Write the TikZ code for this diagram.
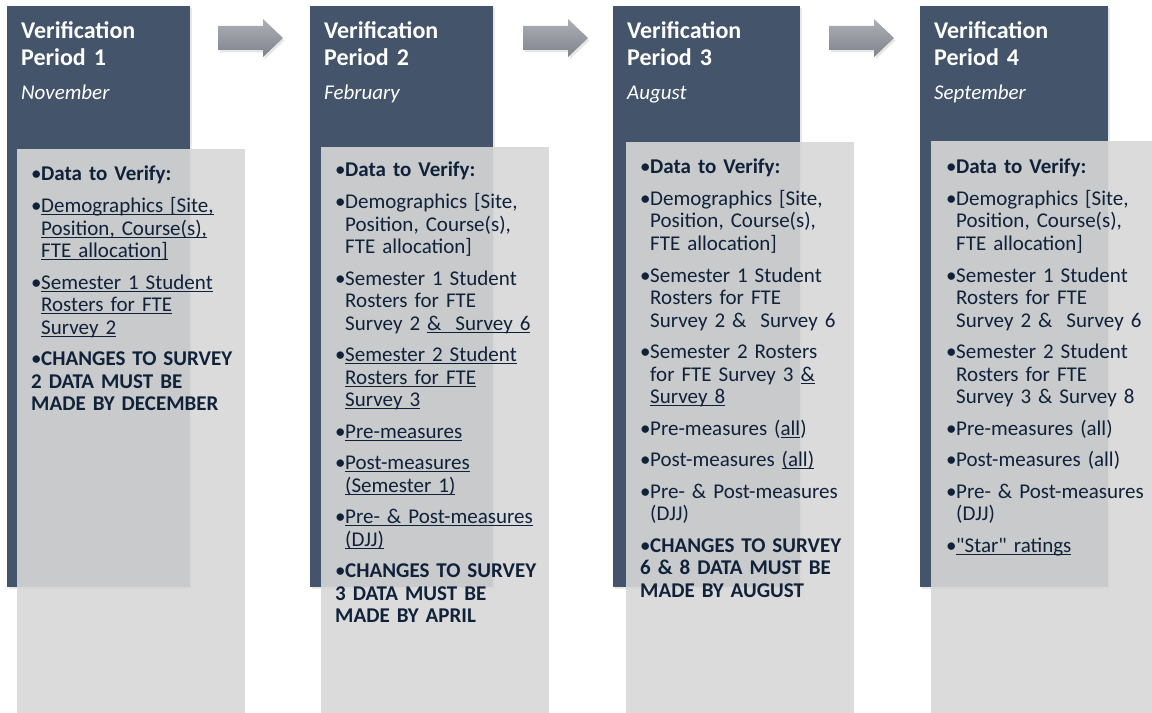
\documentclass[tikz,border=0pt]{standalone}
\usepackage{fontspec}
\setmainfont{Carlito}
\usepackage{tikz}
\usetikzlibrary{positioning,shadows}

\definecolor{headblue}{RGB}{68,84,106}
\definecolor{boxgray}{RGB}{215,215,215}
\definecolor{navytext}{RGB}{16,34,58}
\definecolor{arrowtop}{RGB}{172,175,182}
\definecolor{arrowbot}{RGB}{128,131,139}

% bullet item with hanging indent
\newcommand{\itm}[1]{\par\parskip=9bp\relax\hangindent=10bp\hangafter=1\noindent\makebox[10bp][l]{\textbullet}#1}
% underline that sits just under the baseline
\newcommand{\uln}[1]{\setbox0\hbox{#1}\rlap{\rule[-2.6bp]{\wd0}{1.1bp}}\box0}

\tikzset{
  headbox/.style={fill=headblue, inner sep=0, anchor=north west,
    drop shadow={opacity=0.18, shadow xshift=2bp, shadow yshift=-2bp}},
  listbox/.style={fill=boxgray, fill opacity=0.9, inner sep=0, anchor=north west},
  title/.style={text=white, inner sep=0, anchor=base west, text width=170bp,
    font=\bfseries\fontsize{24bp}{27bp}\selectfont},
  month/.style={text=white, inner sep=0, anchor=base west,
    font=\itshape\fontsize{21bp}{24bp}\selectfont},
  items/.style={text=navytext, inner sep=0, anchor=base west, text width=215bp,
    font=\fontsize{21bp}{22.5bp}\selectfont},
  blockarrow/.style={top color=arrowtop, bottom color=arrowbot,
    drop shadow={opacity=0.2, shadow xshift=1.5bp, shadow yshift=-2.5bp}}
}

\begin{document}
\begin{tikzpicture}[x=1bp, y=-1bp]
  \useasboundingbox (0,0) rectangle (1152,713);

  %Headers
  \node[headbox, minimum width=183bp, minimum height=581bp] at (7,6)   (head1) {};
  \node[headbox, minimum width=183bp, minimum height=581bp] at (310,6) (head2) {};
  \node[headbox, minimum width=187bp, minimum height=581bp] at (613,6) (head3) {};
  \node[headbox, minimum width=188bp, minimum height=581bp] at (920,6) (head4) {};

  %Arrows
  \foreach \x in {218,523,829}
    \path[blockarrow] (\x,26) -- ++(45,0) -- ++(0,-7) -- ++(20,19)
      -- ++(-20,19) -- ++(0,-7) -- ++(-45,0) -- cycle;

  %Boxes
  \node[listbox, minimum width=228bp, minimum height=564bp] at (17,149)  (box1) {};
  \node[listbox, minimum width=228bp, minimum height=566bp] at (321,147) (box2) {};
  \node[listbox, minimum width=228bp, minimum height=571bp] at (626,142) (box3) {};
  \node[listbox, minimum width=221bp, minimum height=572bp] at (931,141) (box4) {};

  %Titles
  \node[title] at (21,39)  (title1) {Verification\newline Period 1};
  \node[title] at (324,39) (title2) {Verification\newline Period 2};
  \node[title] at (627,39) (title3) {Verification\newline Period 3};
  \node[title] at (934,39) (title4) {Verification\newline Period 4};
  \node[month] at (21,100)  (month1) {November};
  \node[month] at (324,100) (month2) {February};
  \node[month] at (627,100) (month3) {August};
  \node[month] at (934,100) (month4) {September};

  %Lists
  \node[items] at (31,149.5) (list1) {%
    \itm{\textbf{Data to Verify:}}
    \itm{\uln{Demographics [Site,}\newline\uln{Position, Course(s),}\newline\uln{FTE allocation]}}
    \itm{\uln{Semester 1 Student}\newline\uln{Rosters for FTE}\newline\uln{Survey 2}}
    \itm{\textbf{CHANGES TO SURVEY\newline 2 DATA MUST BE\newline MADE BY DECEMBER}}};
  \node[items] at (335,145.5) (list2) {%
    \itm{\textbf{Data to Verify:}}
    \itm{Demographics [Site,\newline Position, Course(s),\newline FTE allocation]}
    \itm{Semester 1 Student\newline Rosters for FTE\newline Survey 2 \uln{\&\ \ Survey 6}}
    \itm{\uln{Semester 2 Student}\newline\uln{Rosters for FTE}\newline\uln{Survey 3}}
    \itm{\uln{Pre-measures}}
    \itm{\uln{Post-measures}\newline\uln{(Semester 1)}}
    \itm{\uln{Pre- \& Post-measures}\newline\uln{(DJJ)}}
    \itm{\textbf{CHANGES TO SURVEY\newline 3 DATA MUST BE\newline MADE BY APRIL}}};
  \node[items] at (640,142.5) (list3) {%
    \itm{\textbf{Data to Verify:}}
    \itm{Demographics [Site,\newline Position, Course(s),\newline FTE allocation]}
    \itm{Semester 1 Student\newline Rosters for FTE\newline Survey 2 \&\ \ Survey 6}
    \itm{Semester 2 Rosters\newline for FTE Survey 3 \uln{\&}\newline\uln{Survey 8}}
    \itm{Pre-measures (\uln{all})}
    \itm{Post-measures \uln{(all)}}
    \itm{Pre- \& Post-measures\newline (DJJ)}
    \itm{\textbf{CHANGES TO SURVEY\newline 6 \& 8 DATA MUST BE\newline MADE BY AUGUST}}};
  \node[items] at (946,142.5) (list4) {%
    \itm{\textbf{Data to Verify:}}
    \itm{Demographics [Site,\newline Position, Course(s),\newline FTE allocation]}
    \itm{Semester 1 Student\newline Rosters for FTE\newline Survey 2 \&\ \ Survey 6}
    \itm{Semester 2 Student\newline Rosters for FTE\newline Survey 3 \& Survey 8}
    \itm{Pre-measures (all)}
    \itm{Post-measures (all)}
    \itm{Pre- \& Post-measures\newline (DJJ)}
    \itm{\uln{\textquotedbl Star\textquotedbl\ ratings}}};
\end{tikzpicture}
\end{document}
